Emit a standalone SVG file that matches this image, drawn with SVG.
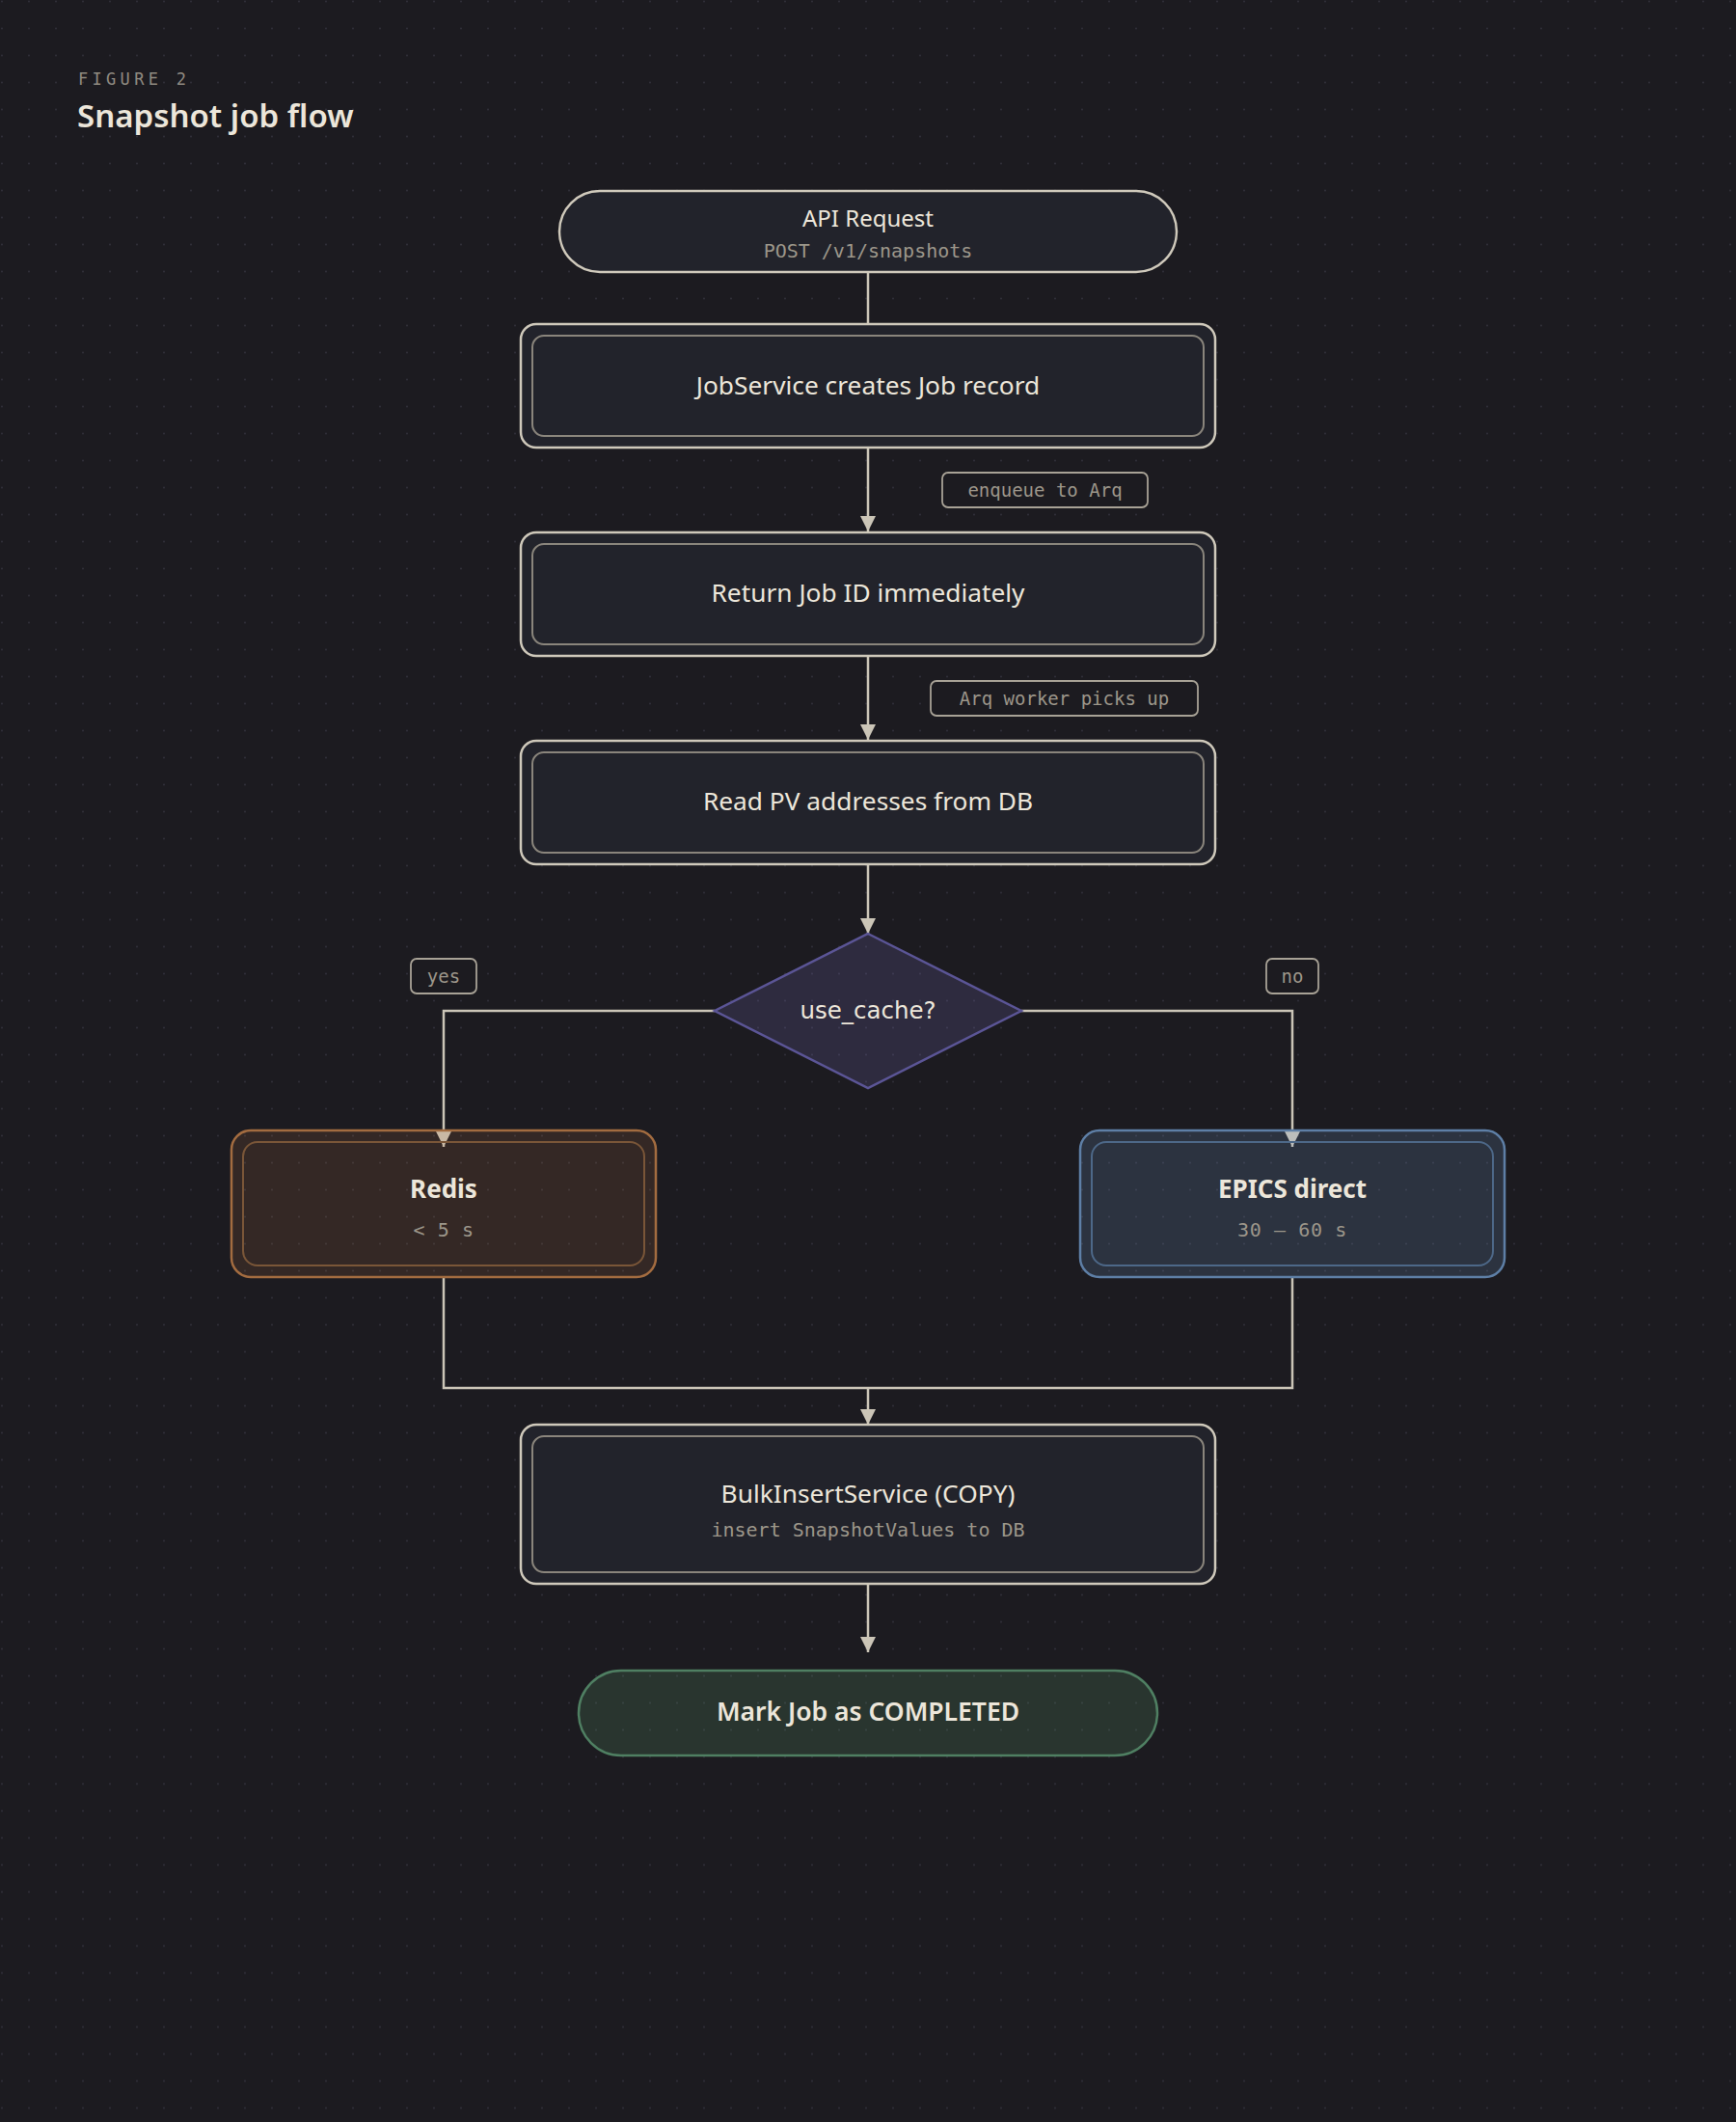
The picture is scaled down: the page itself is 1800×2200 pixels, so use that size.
<svg xmlns="http://www.w3.org/2000/svg" width="1800" height="2200" viewBox="0 0 1800 2200">
<defs>
<pattern id="dots" x="0" y="0" width="28" height="28" patternUnits="userSpaceOnUse">
<circle cx="2" cy="1.5" r="1" fill="#303039"/>
</pattern>
<marker id="arr" viewBox="0 0 16 16" refX="16" refY="8" markerWidth="16" markerHeight="16" markerUnits="userSpaceOnUse" orient="auto">
<path d="M0,0 L16,8 L0,16 Z" fill="#cbc5b7"/>
</marker>
<style>
.bg{fill:#1c1b20}
.conn{fill:none;stroke:#cbc5b7;stroke-width:2.5}
.outer{fill:#22232b;stroke:#cfc9bb;stroke-width:2.5}
.inner{fill:none;stroke:#8a857c;stroke-width:2}
.t{font-family:"Noto Sans","Open Sans",sans-serif;fill:#ece6da;text-anchor:middle}
.m{font-family:"DejaVu Sans Mono","Liberation Mono",monospace;fill:#9c968a;text-anchor:middle}
.lbl{fill:#1c1b20;stroke:#a8a296;stroke-width:1.8}
</style>
</defs>
<rect class="bg" x="0" y="0" width="1800" height="2200"/>
<rect x="0" y="0" width="1800" height="2200" fill="url(#dots)"/>

<g id="header">
<text x="81" y="88" font-family="DejaVu Sans Mono, Liberation Mono, monospace" font-size="17" letter-spacing="4.3" fill="#8f8a80">FIGURE 2</text>
<text x="80" y="132" font-family="Noto Sans, Open Sans, sans-serif" font-size="33" font-weight="600" fill="#ece6da">Snapshot job flow</text>
</g>

<g id="connectors">
<line class="conn" x1="900" y1="282" x2="900" y2="336"/>
<line class="conn" x1="900" y1="464" x2="900" y2="551" marker-end="url(#arr)"/>
<line class="conn" x1="900" y1="680" x2="900" y2="767" marker-end="url(#arr)"/>
<line class="conn" x1="900" y1="896" x2="900" y2="968" marker-end="url(#arr)"/>
<polyline class="conn" points="741,1048 460,1048 460,1189" marker-end="url(#arr)"/>
<polyline class="conn" points="1059,1048 1340,1048 1340,1189" marker-end="url(#arr)"/>
<polyline class="conn" points="460,1324 460,1439 1340,1439 1340,1324"/>
<line class="conn" x1="900" y1="1439" x2="900" y2="1477" marker-end="url(#arr)"/>
<line class="conn" x1="900" y1="1642" x2="900" y2="1713" marker-end="url(#arr)"/>
<g id="edge-labels">
<rect class="lbl" x="977" y="490" width="213" height="36" rx="6"/>
<text class="m" x="1083.5" y="515" font-size="19">enqueue to Arq</text>
<rect class="lbl" x="965" y="706" width="277" height="36" rx="6"/>
<text class="m" x="1103.5" y="731" font-size="19">Arq worker picks up</text>
<rect class="lbl" x="426" y="994" width="68" height="36" rx="6"/>
<text class="m" x="460" y="1019" font-size="19">yes</text>
<rect class="lbl" x="1313" y="994" width="54" height="36" rx="6"/>
<text class="m" x="1340" y="1019" font-size="19">no</text>
</g>
</g>

<g id="api-request">
<rect x="580" y="198" width="640" height="84" rx="42" fill="#22232b" stroke="#cfc9bb" stroke-width="2.5"/>
<text class="t" x="900" y="235" font-size="24">API Request</text>
<text class="m" x="900" y="267" font-size="20">POST /v1/snapshots</text>
</g>

<g id="create-job">
<rect class="outer" x="540" y="336" width="720" height="128" rx="16"/>
<rect class="inner" x="552" y="348" width="696" height="104" rx="12"/>
<text class="t" x="900" y="409" font-size="26.3">JobService creates Job record</text>
</g>

<g id="return-id">
<rect class="outer" x="540" y="552" width="720" height="128" rx="16"/>
<rect class="inner" x="552" y="564" width="696" height="104" rx="12"/>
<text class="t" x="900" y="624" font-size="26.3">Return Job ID immediately</text>
</g>

<g id="read-pv">
<rect class="outer" x="540" y="768" width="720" height="128" rx="16"/>
<rect class="inner" x="552" y="780" width="696" height="104" rx="12"/>
<text class="t" x="900" y="840" font-size="26.3">Read PV addresses from DB</text>
</g>

<g id="use-cache">
<polygon points="900,968 1059,1048 900,1128 741,1048" fill="#7a70c0" fill-opacity="0.2" stroke="#5b5596" stroke-width="2.5"/>
<text x="900" y="1056" font-family="DejaVu Sans, sans-serif" font-size="24.5" fill="#ece6da" text-anchor="middle">use_cache?</text>
</g>

<g id="redis">
<rect x="240" y="1172" width="440" height="152" rx="20" fill="#c07a40" fill-opacity="0.15" stroke="#a36c40" stroke-width="2.5"/>
<rect x="252" y="1184" width="416" height="128" rx="15" fill="none" stroke="#7a5638" stroke-width="2"/>
<text class="t" x="460" y="1242" font-size="26" font-weight="700">Redis</text>
<text class="m" x="460" y="1282" font-size="20" letter-spacing="0.6">&lt; 5 s</text>
</g>

<g id="epics">
<rect x="1120" y="1172" width="440" height="152" rx="20" fill="#7aa0d0" fill-opacity="0.18" stroke="#5e7fa6" stroke-width="2.5"/>
<rect x="1132" y="1184" width="416" height="128" rx="15" fill="none" stroke="#4d6888" stroke-width="2"/>
<text class="t" x="1340" y="1242" font-size="26" font-weight="700">EPICS direct</text>
<text class="m" x="1340" y="1282" font-size="20" letter-spacing="0.6">30 – 60 s</text>
</g>

<g id="bulk-insert">
<rect class="outer" x="540" y="1477" width="720" height="165" rx="16"/>
<rect class="inner" x="552" y="1489" width="696" height="141" rx="12"/>
<text class="t" x="900" y="1558" font-size="26.3">BulkInsertService (COPY)</text>
<text class="m" x="900" y="1593" font-size="20">insert SnapshotValues to DB</text>
</g>

<g id="completed">
<rect x="600" y="1732" width="600" height="88" rx="44" fill="#60a070" fill-opacity="0.2" stroke="#4f7f62" stroke-width="2.5"/>
<text class="t" x="900" y="1784" font-size="26.5" font-weight="600">Mark Job as COMPLETED</text>
</g>
</svg>
